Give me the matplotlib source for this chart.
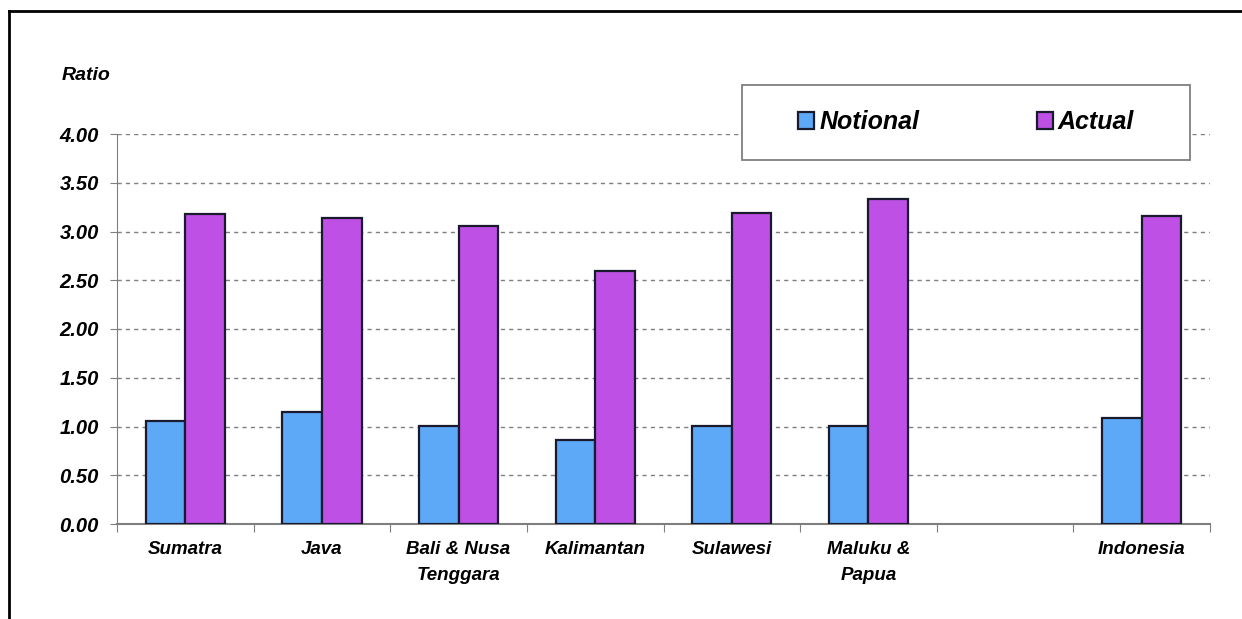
import matplotlib
matplotlib.use("Agg")
import matplotlib.pyplot as plt
from matplotlib.lines import Line2D
from matplotlib.patches import Rectangle
import numpy as np

plt.rcParams["font.family"] = ["Liberation Sans", "DejaVu Sans"]

# data
categories = ["Sumatra", "Java", "Bali & Nusa\nTenggara", "Kalimantan",
              "Sulawesi", "Maluku &\nPapua", "", "Indonesia"]
notional = [1.06, 1.15, 1.01, 0.86, 1.01, 1.01, np.nan, 1.09]
actual = [3.18, 3.14, 3.06, 2.60, 3.19, 3.33, np.nan, 3.16]
yticks = [0.0, 0.5, 1.0, 1.5, 2.0, 2.5, 3.0, 3.5, 4.0]

blue = "#5EA9F7"
purple = "#BE50E6"
grey = "#7F7F7F"
W, H = 1242, 619

fig = plt.figure(figsize=(W / 100, H / 100), dpi=100)
ax = fig.add_axes([117 / W, 1 - 524 / H, (1210 - 117) / W, (524 - 134) / H])

x = np.arange(len(categories)) + 0.5
w = 0.29
ax.bar(x - w / 2, notional, w, color=blue, edgecolor="#1a1a2e", linewidth=1.6,
       label="Notional", zorder=3)
ax.bar(x + w / 2, actual, w, color=purple, edgecolor="#1a1a2e", linewidth=1.6,
       label="Actual", zorder=3)

ax.set_xlim(0, len(categories))
ax.set_ylim(0, 4.0)
ax.set_yticks(yticks)
ax.set_yticklabels([f"{v:.2f}" for v in yticks], fontsize=14.5,
                   fontweight="bold", fontstyle="italic")
ax.yaxis.grid(True, linestyle=(0, (3, 3)), color=grey, linewidth=1.0, zorder=0)

# category ticks between groups, labels at the centres
ax.set_xticks(np.arange(len(categories) + 1))
ax.set_xticklabels([])
ax.set_xticks(x, minor=True)
ax.set_xticklabels(categories, minor=True, fontsize=13.5, fontweight="bold",
                   fontstyle="italic", linespacing=1.75)
ax.tick_params(axis="x", which="minor", length=0, pad=12)
ax.tick_params(axis="x", which="major", length=6, color=grey, direction="out")
ax.tick_params(axis="y", length=5, color=grey, direction="out", pad=8)

for side in ["top", "right"]:
    ax.spines[side].set_visible(False)
ax.spines["left"].set_color(grey)
ax.spines["bottom"].set_color(grey)
ax.spines["bottom"].set_linewidth(1.5)

fig.text(62 / W, 1 - 75 / H, "Ratio", fontsize=14, fontweight="bold",
         fontstyle="italic", va="center", ha="left")

# legend box
box = Rectangle((742 / W, 1 - 160 / H), (1190 - 742) / W, 75 / H,
                transform=fig.transFigure, facecolor="white", edgecolor=grey,
                linewidth=1.3, zorder=4, clip_on=False)
ax.add_patch(box)
leg = ax.legend(loc="center left", bbox_to_anchor=(798 / W, 1 - 122 / H),
                bbox_transform=fig.transFigure, ncol=2, frameon=False,
                prop={"size": 18, "weight": "bold", "style": "italic"},
                columnspacing=4.7, handlelength=0.65, handleheight=0.65,
                handletextpad=0.2, borderpad=0, borderaxespad=0)
leg.set_zorder(5)

# outer frame (only top and left visible in the reference)
fig.add_artist(Line2D([9 / W, 9 / W], [0, 1 - 11 / H],
                      transform=fig.transFigure, color="black", linewidth=2))
fig.add_artist(Line2D([9 / W, 1], [1 - 11 / H, 1 - 11 / H],
                      transform=fig.transFigure, color="black", linewidth=2))

fig.savefig("out.png", dpi=100)
